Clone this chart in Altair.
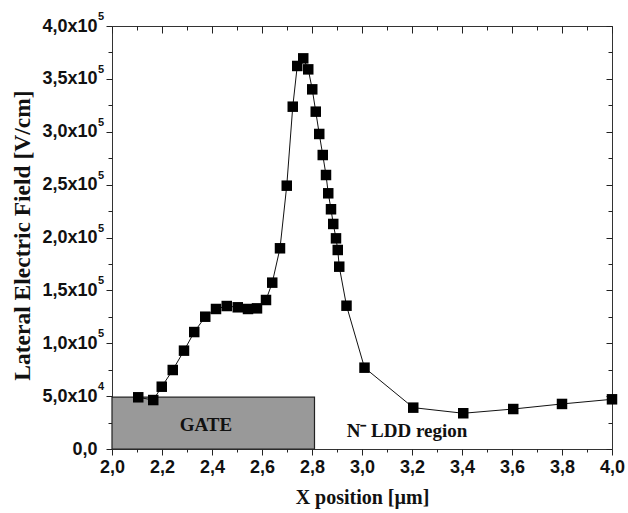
import altair as alt
import pandas as pd

# ---- data ----
x_um = [2.105, 2.165, 2.199, 2.243, 2.288, 2.329, 2.373, 2.416, 2.459, 2.503,
        2.544, 2.580, 2.616, 2.641, 2.672, 2.699, 2.723, 2.741, 2.765, 2.785,
        2.801, 2.815, 2.829, 2.843, 2.856, 2.865, 2.876, 2.885, 2.896, 2.903,
        2.909, 2.938, 3.010, 3.205, 3.405, 3.605, 3.800, 4.000]
field = [48900, 46300, 58900, 74700, 93000, 110600, 125100, 132400, 135200, 134000,
         132400, 133000, 140900, 157300, 189800, 249000, 323700, 362200, 369400, 359000,
         340100, 319000, 297900, 278000, 259100, 241800, 226700, 212800, 199200, 188200,
         172400, 135500, 76900, 39100, 33800, 37800, 42600, 47000]

gate_x = [2.0, 2.81]
gate_top = [49000]

region_text = ["GATE", "N\u207b LDD region"]
region_x = [2.376, 3.18]
region_y = [22700, 17000]

x_ticks = [2.0, 2.2, 2.4, 2.6, 2.8, 3.0, 3.2, 3.4, 3.6, 3.8, 4.0]
x_tick_labels = ["2,0", "2,2", "2,4", "2,6", "2,8", "3,0", "3,2", "3,4", "3,6", "3,8", "4,0"]
x_minor = [2.1, 2.3, 2.5, 2.7, 2.9, 3.1, 3.3, 3.5, 3.7, 3.9]

y_ticks = [0, 50000, 100000, 150000, 200000, 250000, 300000, 350000, 400000]
y_tick_labels = ["0,0", "5,0x10", "1,0x10", "1,5x10", "2,0x10",
                 "2,5x10", "3,0x10", "3,5x10", "4,0x10"]
y_tick_exponents = ["", "4", "5", "5", "5", "5", "5", "5", "5"]
y_minor = [25000, 75000, 125000, 175000, 225000, 275000, 325000, 375000]

# ---- tables ----
curve = pd.DataFrame({"x": x_um, "E": field})
gate = pd.DataFrame({"x0": [gate_x[0]], "x1": [gate_x[1]], "y0": [0], "y1": gate_top})
texts = pd.DataFrame({"t": region_text, "x": region_x, "y": region_y})
sups = pd.DataFrame({"y": y_ticks, "s": y_tick_exponents})


def label_expr(vals, labs):
    expr = "''"
    for v, l in reversed(list(zip(vals, labs))):
        expr = f"abs(datum.value - {v}) < 1e-6 ? '{l}' : ({expr})"
    return expr


xs = alt.Scale(domain=[2.0, 4.0], nice=False, zero=False)
ys = alt.Scale(domain=[0, 400000], nice=False)

common = dict(domain=False, grid=False, tickColor="#222", tickWidth=1)
lab = dict(labelFont="Liberation Sans", labelFontWeight="bold", labelFontSize=18,
           labelColor="#111", labelFlush=False)
tit = dict(titleFont="Liberation Serif", titleFontWeight="bold", titleColor="#111")

ax_bottom = alt.Axis(orient="bottom", values=x_ticks, labelExpr=label_expr(x_ticks, x_tick_labels),
                     tickSize=6, labelPadding=3, title="X position [\u00b5m]",
                     titleFontSize=20,
                     titleX=250, titleY=48, titleAlign="center", titleBaseline="middle",
                     **common, **lab, **tit)
ax_left = alt.Axis(orient="left", values=y_ticks, labelExpr=label_expr(y_ticks, y_tick_labels),
                   tickSize=6, labelPadding=9, title="Lateral Electric Field [V/cm]",
                   titleFontSize=23.5,
                   titleX=-90, titleY=209, titleAngle=270, titleAlign="center",
                   titleBaseline="middle", **common, **lab, **tit)
ax_bottom_minor = alt.Axis(orient="bottom", values=x_minor, labels=False, tickSize=3,
                           title=None, **common)
ax_left_minor = alt.Axis(orient="left", values=y_minor, labels=False, tickSize=4,
                         title=None, **common)
ax_top = alt.Axis(orient="top", values=x_ticks, labels=False, tickSize=7, offset=-7,
                  title=None, **common)
ax_right = alt.Axis(orient="right", values=y_ticks, labels=False, tickSize=6, offset=-6,
                    title=None, **common)
ax_top_minor = alt.Axis(orient="top", values=x_minor, labels=False, tickSize=4, offset=-4,
                        title=None, **common)
ax_right_minor = alt.Axis(orient="right", values=y_minor, labels=False, tickSize=4, offset=-4,
                          title=None, **common)

rect = alt.Chart(gate).mark_rect(fill="#999999", stroke="#222", strokeWidth=1.2).encode(
    x=alt.X("x0:Q", scale=xs, axis=ax_bottom),
    x2="x1:Q",
    y=alt.Y("y0:Q", scale=ys, axis=ax_left),
    y2="y1:Q",
)

line = alt.Chart(curve).mark_line(color="#111", strokeWidth=1).encode(
    x=alt.X("x:Q", scale=xs, axis=ax_bottom_minor),
    y=alt.Y("E:Q", scale=ys, axis=ax_left_minor),
)

points = alt.Chart(curve).mark_square(color="#000", size=110, opacity=1).encode(
    x=alt.X("x:Q", scale=xs, axis=ax_top),
    y=alt.Y("E:Q", scale=ys, axis=ax_right),
)

labels = alt.Chart(texts).mark_text(font="Liberation Serif", fontSize=19, fontWeight="bold",
                                    color="#111", align="center", baseline="middle").encode(
    x=alt.X("x:Q", scale=xs, axis=ax_top_minor),
    y=alt.Y("y:Q", scale=ys, axis=ax_right_minor),
    text="t:N",
)

exponents = alt.Chart(sups).mark_text(font="Liberation Sans", fontSize=11, fontWeight="bold",
                                      color="#111", align="left", baseline="middle",
                                      dy=-9).encode(
    x=alt.value(-14),
    y=alt.Y("y:Q", scale=ys, axis=None),
    text="s:N",
)

chart = alt.layer(rect, line, points, labels, exponents).resolve_axis(
    x="independent", y="independent"
).properties(
    width=500, height=423,
    autosize=alt.AutoSizeParams(type="none"),
    padding={"left": 112, "top": 26, "right": 16, "bottom": 64},
    background="white",
).configure_view(stroke="#333", strokeWidth=1)

chart.save("out.html", embed_options={"renderer": "svg", "actions": False})
